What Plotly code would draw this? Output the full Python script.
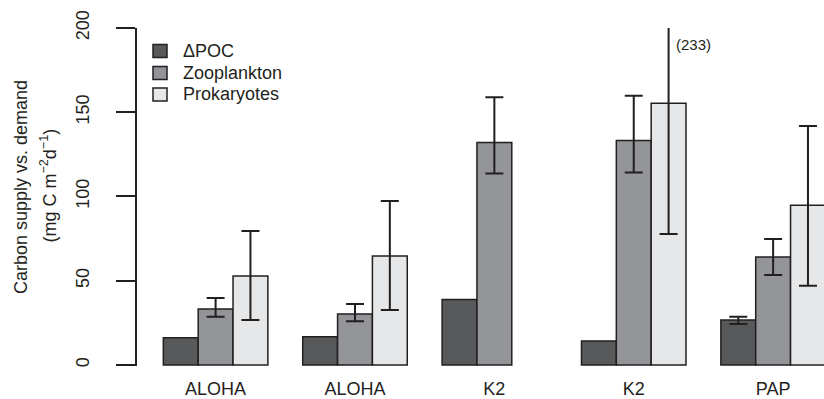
import plotly.graph_objects as go

# ---- data ----
groups = ["ALOHA", "ALOHA", "K2", "K2", "PAP"]
series = ["ΔPOC", "Zooplankton", "Prokaryotes"]

dpoc = [16.2, 16.8, 38.8, 14.2, 26.7]
dpoc_lo = [None, None, None, None, 24.3]
dpoc_hi = [None, None, None, None, 28.7]

zoo = [33.2, 30.3, 132.1, 133.3, 64.1]
zoo_lo = [28.7, 25.9, 113.6, 114.3, 53.4]
zoo_hi = [39.8, 36.2, 158.9, 159.8, 74.8]

prok = [52.8, 64.7, None, 155.3, 94.8]
prok_lo = [26.7, 32.6, None, 77.7, 47.1]
prok_hi = [79.5, 97.3, None, 233, 141.8]

y_ticks = [0, 50, 100, 150, 200]

colors = ["#58595b", "#939598", "#e6e7e8"]
ink = "#231f20"
font_family = "Liberation Sans, Arial, Helvetica, sans-serif"

values = [dpoc, zoo, prok]
lows = [dpoc_lo, zoo_lo, prok_lo]
highs = [dpoc_hi, zoo_hi, prok_hi]

fig = go.Figure()

# bars
for j, name in enumerate(series):
    xs = [4 * i + 1.5 + j for i in range(len(groups))]
    fig.add_trace(go.Bar(
        x=xs, y=values[j], width=1, name=name, showlegend=False,
        marker=dict(color=colors[j], line=dict(color=ink, width=1.5)),
    ))

# error bars (only where bounds exist)
for j, name in enumerate(series):
    ex, ey, ep, em = [], [], [], []
    for i in range(len(groups)):
        v, lo, hi = values[j][i], lows[j][i], highs[j][i]
        if v is None or lo is None or hi is None:
            continue
        ex.append(4 * i + 1.5 + j)
        ey.append(v)
        ep.append(hi - v)
        em.append(v - lo)
    fig.add_trace(go.Scatter(
        x=ex, y=ey, mode="markers", showlegend=False, hoverinfo="skip",
        marker=dict(size=1, opacity=0),
        error_y=dict(type="data", symmetric=False, array=ep, arrayminus=em,
                     width=9, thickness=2, color=ink),
    ))

label_x = [4 * i + 2.5 for i in range(len(groups))]

fig.update_layout(
    width=824, height=399,
    margin=dict(l=137, r=0, t=28, b=33),
    paper_bgcolor="white", plot_bgcolor="white",
    barmode="overlay",
    font=dict(family=font_family, size=18, color=ink),
    showlegend=False,
    xaxis=dict(range=[0.244, 19.96], tickvals=label_x, ticktext=groups,
               ticks="", showline=False, showgrid=False, zeroline=False,
               ticklabelstandoff=10,
               tickfont=dict(size=18, color=ink)),
    yaxis=dict(range=[-0.6, 200], tickvals=y_ticks,
               ticks="outside", ticklen=19, tickwidth=2, tickcolor=ink,
               showline=True, linewidth=2, linecolor=ink,
               showgrid=False, zeroline=False, tickangle=-90,
               ticklabelstandoff=20,
               tickfont=dict(size=18, color=ink)),
)

# legend (keys + labels), placed in pixel terms of the plot area
plot_l, plot_w, plot_t, plot_h = 137, 687, 28, 338


def px_x(px):
    return (px - plot_l) / plot_w


def px_y(py):
    return 1 - (py - plot_t) / plot_h


legend_rows = [51, 73, 94.5]
for j, name in enumerate(series):
    cy = legend_rows[j]
    fig.add_shape(type="rect", xref="paper", yref="paper",
                  x0=px_x(153), x1=px_x(167), y0=px_y(cy + 6.5), y1=px_y(cy - 6.5),
                  fillcolor=colors[j], line=dict(color=ink, width=1.5))
    fig.add_annotation(x=px_x(181), y=px_y(cy), xref="paper", yref="paper",
                       text=name, showarrow=False, xanchor="left",
                       yanchor="middle", font=dict(size=18, color=ink))

# clipped upper error value label
fig.add_annotation(x=4 * 3 + 3.5, y=190.5, xref="x", yref="y",
                   text="(%d)" % prok_hi[3], showarrow=False,
                   xanchor="left", yanchor="middle", xshift=5,
                   font=dict(size=15, color=ink))

# y-axis title (two lines)
fig.add_annotation(x=px_x(20.5), y=px_y(187.5), xref="paper", yref="paper",
                   text="Carbon supply vs. demand", textangle=-90,
                   showarrow=False, xanchor="center", yanchor="middle",
                   font=dict(size=18, color=ink))
fig.add_annotation(x=px_x(49.5), y=px_y(186), xref="paper", yref="paper",
                   text="(mg C m<sup>−2</sup>d<sup>−1</sup>)", textangle=-90,
                   showarrow=False, xanchor="center", yanchor="middle",
                   font=dict(size=18, color=ink))

fig.write_html("out.html")
